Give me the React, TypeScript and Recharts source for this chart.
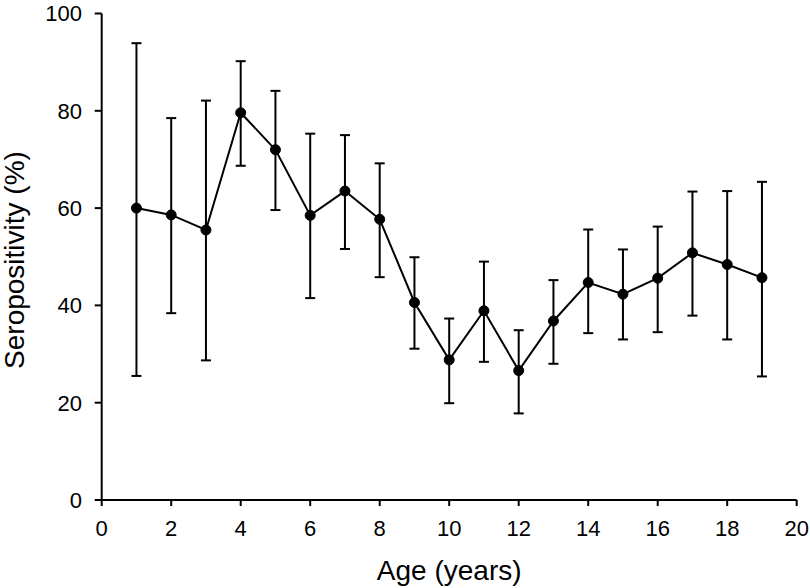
import { LineChart, Line, XAxis, YAxis, ErrorBar, Label } from "recharts";

const ages = [1, 2, 3, 4, 5, 6, 7, 8, 9, 10, 11, 12, 13, 14, 15, 16, 17, 18, 19];
const seroPct = [60.0, 58.6, 55.5, 79.6, 72.0, 58.5, 63.5, 57.7, 40.6, 28.8, 38.9, 26.6, 36.8, 44.7, 42.3, 45.6, 50.8, 48.4, 45.7];
const ciLow = [25.5, 38.4, 28.7, 68.7, 59.6, 41.5, 51.6, 45.8, 31.1, 19.9, 28.4, 17.8, 28.0, 34.3, 33.0, 34.5, 37.9, 33.0, 25.4];
const ciHigh = [93.9, 78.5, 82.1, 90.2, 84.1, 75.3, 75.0, 69.2, 49.9, 37.3, 49.0, 34.9, 45.2, 55.6, 51.5, 56.2, 63.4, 63.5, 65.4];
const xTicks = [0, 2, 4, 6, 8, 10, 12, 14, 16, 18, 20];
const yTicks = [0, 20, 40, 60, 80, 100];

const data = ages.map((age, i) => ({
  age,
  sero: seroPct[i],
  ci: [seroPct[i] - ciLow[i], ciHigh[i] - seroPct[i]],
}));

const font = "'Liberation Sans', Arial, Helvetica, sans-serif";

const XTitle = (props: any) => {
  const { viewBox } = props;
  return (
    <text
      x={viewBox.x + viewBox.width / 2}
      y={viewBox.y + 80}
      textAnchor="middle"
      fontSize={28}
      fontFamily={font}
      fill="#000"
    >
      Age (years)
    </text>
  );
};

const YTitle = () => (
  <text
    x={23.5}
    y={260}
    transform="rotate(-90, 23.5, 260)"
    textAnchor="middle"
    fontSize={28}
    fontFamily={font}
    fill="#000"
  >
    Seropositivity (%)
  </text>
);

export default function App() {
  return (
    <div style={{ position: "absolute", left: 0, top: 0, width: 810, height: 588 }}>
      <LineChart
        width={810}
        height={588}
        data={data}
        margin={{ top: 13.5, right: 13.3, bottom: 0, left: 0 }}
      >
        <XAxis
          dataKey="age"
          type="number"
          domain={[0, 20]}
          ticks={xTicks}
          height={88}
          stroke="#000"
          strokeWidth={2}
          tickSize={6}
          tickMargin={14}
          tick={{ fill: "#000", fontSize: 22, fontFamily: font }}
        >
          <Label content={XTitle} />
        </XAxis>
        <YAxis
          type="number"
          domain={[0, 100]}
          ticks={yTicks}
          width={101.7}
          stroke="#000"
          strokeWidth={2}
          tickSize={7}
          tickMargin={12.7}
          tick={{ fill: "#000", fontSize: 22, fontFamily: font }}
        >
          <Label content={YTitle} />
        </YAxis>
        <Line
          dataKey="sero"
          stroke="#000"
          strokeWidth={2}
          dot={{ r: 5, fill: "#000", stroke: "#000", strokeWidth: 1 }}
          activeDot={false}
          isAnimationActive={false}
        >
          <ErrorBar
            dataKey="ci"
            direction="y"
            width={5}
            stroke="#000"
            strokeWidth={2}
            isAnimationActive={false}
          />
        </Line>
      </LineChart>
    </div>
  );
}
